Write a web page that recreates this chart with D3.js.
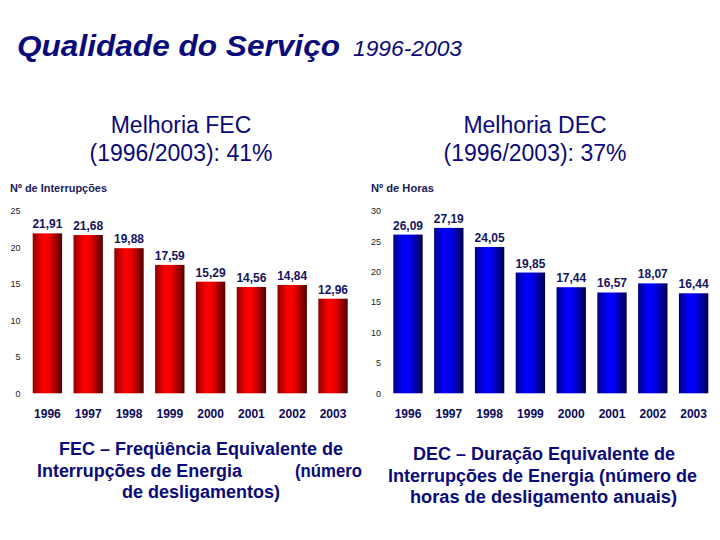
<!DOCTYPE html>
<html>
<head>
<meta charset="utf-8">
<script src="https://cdn.jsdelivr.net/npm/d3@7"></script>
<style>
  html, body { margin: 0; padding: 0; background: #fff; }
  svg { display: block; }
</style>
</head>
<body>
<svg id="chart" width="720" height="540"></svg>
<script>
// ---- data ----
const years = ["1996", "1997", "1998", "1999", "2000", "2001", "2002", "2003"];
const fecValues = [21.91, 21.68, 19.88, 17.59, 15.29, 14.56, 14.84, 12.96];
const decValues = [26.09, 27.19, 24.05, 19.85, 17.44, 16.57, 18.07, 16.44];
const fecTicks = [0, 5, 10, 15, 20, 25];
const decTicks = [0, 5, 10, 15, 20, 25, 30];
const titleMain = "Qualidade do Serviço";
const titleYears = "1996-2003";
const fecHeadline = ["Melhoria FEC", "(1996/2003): 41%"];
const decHeadline = ["Melhoria DEC", "(1996/2003): 37%"];
const fecAxisTitle = "Nº de Interrupções";
const decAxisTitle = "Nº de Horas";

const navy = "#0a0a7a";
const svg = d3.select("#chart");
svg.append("rect").attr("width", 720).attr("height", 540).attr("fill", "#fff");

// gradients
const defs = svg.append("defs");
function grad(id, stops) {
  const g = defs.append("linearGradient").attr("id", id)
    .attr("x1", "0%").attr("x2", "100%").attr("y1", "0%").attr("y2", "0%");
  stops.forEach(s => g.append("stop").attr("offset", s[0]).attr("stop-color", s[1]));
}
grad("redGrad", [[0, "#900000"], [0.3, "#f00000"], [0.42, "#ff0000"], [0.62, "#dd0000"], [1, "#500000"]]);
grad("blueGrad", [[0, "#000088"], [0.3, "#0000f0"], [0.42, "#0000ff"], [0.62, "#0000dd"], [1, "#00004a"]]);

// title
svg.append("text").attr("x", 17).attr("y", 56)
  .attr("font-family", "Liberation Sans, Arial, sans-serif")
  .attr("font-weight", "bold").attr("font-style", "italic")
  .attr("font-size", 29).attr("fill", navy)
  .attr("textLength", 323).attr("lengthAdjust", "spacingAndGlyphs")
  .text(titleMain);
svg.append("text").attr("x", 353).attr("y", 56)
  .attr("font-family", "Liberation Sans, Arial, sans-serif")
  .attr("font-style", "italic")
  .attr("font-size", 22).attr("fill", navy)
  .attr("textLength", 109).attr("lengthAdjust", "spacingAndGlyphs")
  .text(titleYears);

function headline(lines, cx) {
  lines.forEach((t, i) => {
    svg.append("text").attr("x", cx).attr("y", 133 + i * 28)
      .attr("text-anchor", "middle")
      .attr("font-family", "Liberation Sans, Arial, sans-serif")
      .attr("font-size", 23).attr("fill", navy)
      .text(t);
  });
}
headline(fecHeadline, 181);
headline(decHeadline, 535);

function panel(opts) {
  const { values, ticks, max, r0, r1, axisX, titleX, title, titleLen, fill } = opts;
  const x = d3.scaleBand().domain(years).range([r0, r1]).paddingInner(0.28).paddingOuter(0.14);
  const y = d3.scaleLinear().domain([0, max]).range([393.3, 210.8]);
  const g = svg.append("g");

  // axis title
  g.append("text").attr("x", titleX).attr("y", 192)
    .attr("font-family", "Liberation Sans, Arial, sans-serif")
    .attr("font-weight", "bold").attr("font-size", 10.5).attr("fill", "#1a1a5a")
    .attr("textLength", titleLen).attr("lengthAdjust", "spacingAndGlyphs")
    .text(title);

  // y axis
  const ya = g.append("g").attr("transform", `translate(${axisX},0)`)
    .call(d3.axisLeft(y).tickValues(ticks).tickSize(0).tickPadding(0));
  ya.select(".domain").remove();
  ya.selectAll("text").attr("font-family", "Liberation Sans, Arial, sans-serif")
    .attr("font-size", 9).attr("fill", "#222");

  // bars
  g.selectAll("rect.bar").data(values).join("rect").attr("class", "bar")
    .attr("x", (d, i) => x(years[i])).attr("width", x.bandwidth())
    .attr("y", d => y(d)).attr("height", d => y(0) - y(d))
    .attr("fill", `url(#${fill})`);

  // value labels
  g.selectAll("text.val").data(values).join("text").attr("class", "val")
    .attr("x", (d, i) => x(years[i]) + x.bandwidth() / 2)
    .attr("y", d => y(d) - 5)
    .attr("text-anchor", "middle")
    .attr("font-family", "Liberation Sans, Arial, sans-serif")
    .attr("font-weight", "bold").attr("font-size", 13.5).attr("fill", "#14145e")
    .attr("textLength", 30).attr("lengthAdjust", "spacingAndGlyphs")
    .text(d => d.toFixed(2).replace(".", ","));

  // x axis
  const xa = g.append("g").attr("transform", "translate(0,409.8)")
    .call(d3.axisBottom(x).tickSize(0).tickPadding(0));
  xa.select(".domain").remove();
  xa.selectAll("text").attr("font-family", "Liberation Sans, Arial, sans-serif")
    .attr("font-weight", "bold").attr("font-size", 12).attr("fill", "#0a0a5a");
}

panel({ values: fecValues, ticks: fecTicks, max: 25, r0: 27, r1: 353.4, axisX: 20.5,
  titleX: 10, title: fecAxisTitle, titleLen: 97, fill: "redGrad" });
panel({ values: decValues, ticks: decTicks, max: 30, r0: 387.6, r1: 714, axisX: 381,
  titleX: 371, title: decAxisTitle, titleLen: 63, fill: "blueGrad" });

// bottom descriptions
const bottomFont = "Liberation Sans, Arial, sans-serif";
function btext(t, x, y, len) {
  svg.append("text").attr("x", x).attr("y", y)
    .attr("font-family", bottomFont).attr("font-weight", "bold")
    .attr("font-size", 18).attr("fill", navy)
    .attr("textLength", len).attr("lengthAdjust", "spacingAndGlyphs")
    .text(t);
}
btext("FEC – Freqüência Equivalente de", 59, 455, 284);
btext("Interrupções de Energia", 37, 477, 205);
btext("(número", 295, 477, 67);
btext("de desligamentos)", 122, 498, 158);

btext("DEC – Duração Equivalente de", 413, 460, 262);
btext("Interrupções de Energia (número de", 388, 482, 309);
btext("horas de desligamento anuais)", 410, 503, 267);
</script>
</body>
</html>
